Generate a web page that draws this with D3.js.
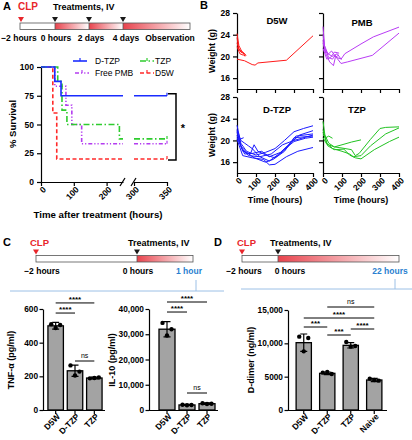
<!DOCTYPE html>
<html><head><meta charset="utf-8">
<script src="https://cdn.jsdelivr.net/npm/d3@7"></script>
<style>body{margin:0;background:#fff}svg{display:block}</style>
</head><body>
<svg id="c" width="412" height="440"></svg>
<script>
const FONT = "'Liberation Sans', Arial, Helvetica, sans-serif";

// ---------------- Panel A: survival ----------------
const survGroups = ["D-TZP", "TZP", "Free PMB", "D5W"];
const survTimes = [[0, 42, 61], [0, 51, 64, 79, 239], [0, 42, 76, 94, 124], [0, 36, 48]];
const survValues = [[100, 87.5, 75], [100, 87.5, 62.5, 50, 37.5], [100, 83.3, 66.7, 50, 33.3], [100, 60, 20]];
const survLeftTicks = [0, 100, 200];
const survRightTicks = [300, 350];
const survYTicks = [0, 25, 50, 75, 100];
const timelineALabels = ["\u22122 hours", "0 hours", "2 days", "4 days", "Observation"];

// ---------------- Panel B: weights ----------------
const weightTitles = ["D5W", "PMB", "D-TZP", "TZP"];
const weightXTicks = [0, 100, 200, 300, 400];
const weightYTicks = [16, 20, 24, 28];
const weightD5W = [
  [[0,19.5],[40,19.2],[80,18.5],[95,18.4],[110,18.8],[260,19.3],[400,23.8]],
  [[0,24.2],[10,22],[24,21],[45,20.3]],
  [[0,23.5],[8,21.5],[20,20.8],[40,20.5],[48,20.1]],
  [[0,22.5],[12,21.2],[30,20.8],[42,20.0]],
  [[0,21.8],[15,20.5],[35,20.2]]
];
const weightPMB = [
  [[0,25.5],[8,22],[25,20.5],[50,20],[75,20.5],[95,19.5],[115,20.5],[200,22.3],[265,23.6],[400,25.4]],
  [[0,24],[10,21.5],[30,19.8],[50,19.5],[65,20.2],[75,19.6],[95,18.7],[130,19],[260,20.2],[400,24.3]],
  [[0,22.5],[15,20.5],[35,19],[55,18.3],[65,19.8],[80,20.2]],
  [[0,21.5],[20,19.5],[40,19.8],[60,20.8],[85,20.6]],
  [[0,23],[10,21],[30,20.5],[45,21],[70,19.8],[100,19.5]]
];
const weightDTZP = [
  [[0,22.8],[20,19.5],[50,18],[100,17.3],[150,17.8],[200,18.5],[250,20],[300,21.6],[350,22.2],[400,22.7]],
  [[0,21.5],[25,18.5],[60,17.2],[120,17],[170,16.2],[220,17.5],[280,19.5],[330,21],[400,21.8]],
  [[0,21],[30,18],[70,17.5],[90,19.2],[110,18],[160,17.2],[200,16.8],[260,18.5],[310,20.8],[400,21.2]],
  [[0,20.5],[40,17.5],[80,17.6],[130,18],[170,17],[230,17.8],[300,19.8],[360,20.4],[400,20.6]],
  [[0,20.2],[30,17.2],[80,16.8],[140,16.5],[170,15.5],[200,15.6],[260,17],[320,18],[400,18.7]],
  [[0,21.8],[20,19],[50,17.8],[90,16.8],[150,16],[190,16.5],[250,18],[300,20.5],[400,20.8]],
  [[0,20.8],[15,20.2],[35,20.5]],
  [[0,22],[20,20],[40,19.5],[60,19],[80,18.5],[120,17],[180,17.5],[240,19.2],[300,20],[400,21]]
];
const weightTZP = [
  [[0,23.5],[10,21],[30,19.5],[60,18.8],[100,18.6],[150,18.3],[170,17.2],[190,17.6],[250,20.2],[300,22.2],[330,22.4],[400,22.5]],
  [[0,22],[20,19.5],[50,18.5],[100,18],[140,17.5],[160,17.0],[200,17.2],[250,19],[330,21.2],[400,22.3]],
  [[0,21.5],[25,19],[60,18.3],[110,18.4],[140,17.3],[170,16.8],[200,16.6],[270,18.3],[350,19.8],[400,20.6]],
  [[0,20.5],[20,19.3],[60,18.8],[100,19.2],[150,19.7],[200,20.1]],
  [[0,21],[15,20.5],[30,20.8],[50,20.4]]
];

// ---------------- Panels C, D: bars ----------------
const tnfGroups = ["D5W", "D-TZP", "TZP"];
const tnfMean = [500, 233, 190];
const tnfSD = [20, 33, 5];
const tnfPoints = [[510, 505, 487], [265, 228, 205], [188, 193, 190]];
const tnfTicks = [0, 200, 400, 600];
const tnfSig = [[0, 2, 636, "****"], [0, 1, 576, "****"], [1, 2, 291, "ns"]];

const il10Groups = ["D5W", "D-TZP", "TZP"];
const il10Mean = [32000, 2000, 2500];
const il10SD = [3000, 200, 300];
const il10Points = [[34500, 32000, 29500], [2100, 2000, 1900], [2700, 2500, 2400]];
const il10Ticks = [0, 10000, 20000, 30000, 40000];
const il10Sig = [[0, 2, 42770, "****"], [0, 1, 38800, "****"], [1, 2, 6730, "ns"]];

const ddGroups = ["D5W", "D-TZP", "TZP", "Naive"];
const ddMean = [10100, 5500, 9700, 4500];
const ddSD = [1300, 200, 400, 250];
const ddPoints = [[11000, 10800, 8800], [5600, 5400, 5700], [10200, 9600, 9500], [4700, 4400, 4500]];
const ddTicks = [0, 5000, 10000, 15000];
const ddSig = [[1, 3, 15450, "ns"], [0, 3, 13800, "****"], [0, 1, 12450, "***"], [2, 3, 12150, "****"], [1, 2, 11250, "***"]];

const timelineCLabels = ["\u22122 hours", "0 hours", "1 hour"];
const timelineDLabels = ["\u22122 hours", "0 hours", "22 hours"];

// ======================================================
const svg = d3.select("#c").attr("font-family", FONT);
const defs = svg.append("defs");
const grad = defs.append("linearGradient").attr("id", "fade").attr("x1", 0).attr("x2", 1).attr("y1", 0).attr("y2", 0);
grad.append("stop").attr("offset", 0).attr("stop-color", "#e8434d");
grad.append("stop").attr("offset", 1).attr("stop-color", "#ffffff");

function txt(x, y, s, o = {}) {
  return svg.append("text").attr("x", x).attr("y", y).text(s)
    .attr("font-size", o.size || 9).attr("font-weight", o.weight || "bold")
    .attr("fill", o.fill || "#000").attr("text-anchor", o.anchor || "start");
}
function vtxt(x, y, s, size) {
  return svg.append("text").attr("transform", `translate(${x},${y}) rotate(-90)`).text(s)
    .attr("font-size", size).attr("font-weight", "bold").attr("text-anchor", "middle").attr("fill", "#000");
}
function styleAxis(g, fs) {
  g.attr("font-family", FONT);
  g.selectAll("path,line").attr("stroke", "#000").attr("stroke-width", 1.2);
  g.selectAll("text").attr("font-size", fs).attr("font-weight", "bold").attr("fill", "#000");
}
function rotateLabels(g, dy) {
  g.selectAll("text").attr("text-anchor", "end").attr("x", 0).attr("y", 0).attr("dy", "0.35em")
    .attr("transform", `translate(3,${dy}) rotate(-45)`);
}
function tri(x, yTop, color) {
  svg.append("path").attr("d", `M${x - 3},${yTop}L${x + 3},${yTop}L${x},${yTop + 5}Z`).attr("fill", color);
}
function timeline(x0, x1, y, marks, fades, labels, labelX, blueLast) {
  svg.append("rect").attr("x", x0).attr("y", y).attr("width", x1 - x0).attr("height", 6.5).attr("fill", "#fff");
  fades.forEach(f => svg.append("rect").attr("x", f[0]).attr("y", y).attr("width", f[1] - f[0]).attr("height", 6.5).attr("fill", "url(#fade)"));
  svg.append("rect").attr("x", x0).attr("y", y).attr("width", x1 - x0).attr("height", 6.5).attr("fill", "none").attr("stroke", "#555").attr("stroke-width", 0.8);
  marks.forEach((m, i) => {
    tri(m, y - 6, i === 0 ? "#e8262b" : "#1a1a1a");
    if (i > 0) svg.append("line").attr("x1", m).attr("x2", m).attr("y1", y).attr("y2", y + 6.5).attr("stroke", "#555").attr("stroke-width", 0.8);
  });
  labels.forEach((l, i) => txt(labelX[i], y + 18, l, { size: 8.5, anchor: "middle", fill: (blueLast && i === labels.length - 1) ? "#2a7fd0" : "#000" }));
}

// ---------- Panel A ----------
txt(3, 10, "A", { size: 11 });
txt(18, 10, "CLP", { size: 10, fill: "#e8262b" });
txt(53, 10, "Treatments, IV", { size: 9 });
timeline(20, 190, 23, [21, 55, 89, 123], [[55, 89], [89, 123], [123, 190]], timelineALabels, [19, 56, 91, 126, 170], false);

const sxL = d3.scaleLinear().domain([0, 250]).range([41, 123]);
const sxR = d3.scaleLinear().domain([300, 350]).range([134, 167]);
const sy = d3.scaleLinear().domain([0, 100]).range([182, 67]);

const gy = svg.append("g").attr("transform", "translate(41,0)").call(d3.axisLeft(sy).tickValues(survYTicks).tickSize(4).tickSizeOuter(0));
styleAxis(gy, 8.5);
const gxL = svg.append("g").attr("transform", "translate(0,182)").call(d3.axisBottom(sxL).tickValues(survLeftTicks).tickSize(4).tickSizeOuter(0));
styleAxis(gxL, 8.5); rotateLabels(gxL, 6);
const gxR = svg.append("g").attr("transform", "translate(0,182)").call(d3.axisBottom(sxR).tickValues(survRightTicks).tickSize(4).tickSizeOuter(0));
styleAxis(gxR, 8.5); rotateLabels(gxR, 6);
[sxL.range()[1], sxR.range()[0]].forEach(x => svg.append("line").attr("x1", x - 3).attr("x2", x + 2).attr("y1", 186).attr("y2", 178).attr("stroke", "#000").attr("stroke-width", 1.2));

const survColors = ["#1a2cff", "#2ecc2e", "#b43cf0", "#ff2a2a"];
const survDash = [null, "6,2.5,1.5,2.5", "4,2,1.2,2,1.2,2", "4,2.5"];
const stepLine = d3.line().x(d => sxL(d[0])).y(d => sy(d[1])).curve(d3.curveStepAfter);
[3, 2, 1, 0].forEach(i => {
  const pts = survTimes[i].map((t, k) => [t, survValues[i][k]]);
  const last = survValues[i][survValues[i].length - 1];
  pts.push([250, last]);
  svg.append("path").attr("d", stepLine(pts)).attr("fill", "none").attr("stroke", survColors[i]).attr("stroke-width", 1.6).attr("stroke-dasharray", survDash[i]);
  svg.append("line").attr("x1", sxR(300)).attr("x2", sxR(350)).attr("y1", sy(last)).attr("y2", sy(last))
    .attr("stroke", survColors[i]).attr("stroke-width", 1.6).attr("stroke-dasharray", survDash[i]);
  svg.append("line").attr("x1", sxR(350)).attr("x2", sxR(350)).attr("y1", sy(last) - 3).attr("y2", sy(last)).attr("stroke", survColors[i]).attr("stroke-width", 1.2);
});
const legPos = [[73, 61], [140, 61], [75, 73], [140, 73]];
survGroups.forEach((g, i) => {
  const [lx, ly] = legPos[i];
  svg.append("line").attr("x1", lx).attr("x2", lx + 14).attr("y1", ly).attr("y2", ly).attr("stroke", survColors[i]).attr("stroke-width", 1.6).attr("stroke-dasharray", survDash[i]);
  svg.append("line").attr("x1", lx + 7).attr("x2", lx + 7).attr("y1", ly - 3).attr("y2", ly).attr("stroke", survColors[i]).attr("stroke-width", 1.2);
  txt(i % 2 === 0 ? 95 : 155, ly + 3, g, { size: 8.5, weight: "normal" });
});
svg.append("path").attr("d", `M168,${sy(75) - 2}H176V${sy(20) + 1}H168`).attr("fill", "none").attr("stroke", "#000").attr("stroke-width", 1.5);
txt(183, 132, "*", { size: 11, anchor: "middle" });
vtxt(16, 124, "% Survival", 9.5);
txt(98, 218, "Time after treatment (hours)", { size: 9.7, anchor: "middle" });

// ---------- Panel B ----------
txt(200, 9, "B", { size: 11 });
const wData = [weightD5W, weightPMB, weightDTZP, weightTZP];
const wColors = ["#ff1a1a", "#b93cf5", "#1a1aff", "#22c322"];
const colX = [[237, 313], [323, 399]];
const rowY = [[89, 13], [173, 97]];
const titlePos = [[277, 24], [362, 26], [277, 113], [357, 113]];
wData.forEach((series, p) => {
  const c = p % 2, r = Math.floor(p / 2);
  const x = d3.scaleLinear().domain([0, 400]).range(colX[c]);
  const y = d3.scaleLinear().domain([14, 28]).range(rowY[r]);
  const ya = svg.append("g").attr("transform", `translate(${colX[c][0]},0)`).call(d3.axisLeft(y).tickValues(weightYTicks).tickSize(4).tickSizeOuter(0));
  styleAxis(ya, 8.5);
  if (c === 1) ya.selectAll("text").remove();
  const xa = svg.append("g").attr("transform", `translate(0,${rowY[r][0]})`).call(d3.axisBottom(x).tickValues(weightXTicks).tickSize(4).tickSizeOuter(0));
  styleAxis(xa, 8.5);
  if (r === 0) xa.selectAll("text").remove(); else rotateLabels(xa, 6);
  const line = d3.line().x(d => x(d[0])).y(d => y(d[1])).curve(d3.curveLinear);
  series.forEach(s => svg.append("path").attr("d", line(s)).attr("fill", "none").attr("stroke", wColors[p]).attr("stroke-width", 1));
  txt(titlePos[p][0], titlePos[p][1], weightTitles[p], { size: 9.5, anchor: "middle" });
});
vtxt(215, 51, "Weight (g)", 9);
vtxt(215, 135, "Weight (g)", 9);
txt(275, 203, "Time (hours)", { size: 9, anchor: "middle" });
txt(361, 203, "Time (hours)", { size: 9, anchor: "middle" });

// ---------- Panel C / D timelines ----------
txt(3, 246, "C", { size: 11 });
txt(30, 246, "CLP", { size: 9.5, fill: "#e8262b" });
txt(128, 246, "Treatments, IV", { size: 9 });
timeline(36, 193, 255.5, [36, 137], [[137, 193]], timelineCLabels, [42, 138, 189], true);
svg.append("path").attr("d", "M10,291H224M196,291V280").attr("fill", "none").attr("stroke", "#9cc0e6").attr("stroke-width", 1);

txt(214, 246, "D", { size: 11 });
txt(237, 246, "CLP", { size: 9.5, fill: "#e8262b" });
txt(270, 246, "Treatments, IV", { size: 9 });
timeline(242, 399, 255.5, [242, 278], [[278, 399]], timelineDLabels, [244, 290, 390], true);
svg.append("path").attr("d", "M241,289H412M395,289V279").attr("fill", "none").attr("stroke", "#9cc0e6").attr("stroke-width", 1);

// ---------- bar charts ----------
function barChart(cfg) {
  const x = d3.scaleBand().domain(cfg.groups).range(cfg.xr).paddingInner(cfg.pad).paddingOuter(cfg.pad / 2);
  const y = d3.scaleLinear().domain([0, cfg.max]).range([410, cfg.top]);
  const ya = svg.append("g").attr("transform", `translate(${cfg.axisX},0)`).call(d3.axisLeft(y).tickValues(cfg.ticks).tickSize(3.5).tickPadding(1.5).tickSizeOuter(0).tickFormat(cfg.fmt));
  styleAxis(ya, 8.3);
  const xa = svg.append("g").attr("transform", `translate(0,410)`).call(d3.axisBottom(x).tickSize(4).tickSizeOuter(0));
  xa.select(".domain").attr("d", `M${cfg.axisX},0.5H${cfg.xr[1] + 1}`);
  styleAxis(xa, 8.5); rotateLabels(xa, 5);
  const bw = x.bandwidth();
  cfg.groups.forEach((g, i) => {
    const cx = x(g) + bw / 2;
    svg.append("rect").attr("x", x(g)).attr("y", y(cfg.mean[i])).attr("width", bw).attr("height", 410 - y(cfg.mean[i]))
      .attr("fill", "#a3a3a3").attr("stroke", "#000").attr("stroke-width", 1.3);
    const lo = y(cfg.mean[i] - cfg.sd[i]), hi = y(cfg.mean[i] + cfg.sd[i]);
    svg.append("path").attr("d", `M${cx},${lo}V${hi}M${cx - 3.5},${hi}H${cx + 3.5}M${cx - 3.5},${lo}H${cx + 3.5}`).attr("stroke", "#000").attr("stroke-width", 1.2).attr("fill", "none");
    const jit = [-4.5, 4.5, 0];
    cfg.points[i].forEach((v, k) => svg.append("circle").attr("cx", cx + jit[k]).attr("cy", y(v)).attr("r", 2.2).attr("fill", "#000"));
  });
  cfg.sig.forEach(([a, b, v, lab]) => {
    const xa_ = x(cfg.groups[a]) + bw / 2, xb = x(cfg.groups[b]) + bw / 2;
    svg.append("line").attr("x1", xa_).attr("x2", xb).attr("y1", y(v)).attr("y2", y(v)).attr("stroke", "#000").attr("stroke-width", 1);
    const isNs = lab === "ns";
    txt((xa_ + xb) / 2, y(v) - (isNs ? 3 : 1), lab, { size: isNs ? 7 : 8, weight: isNs ? "normal" : "bold", anchor: "middle" });
  });
  vtxt(cfg.labelX, 360, cfg.label, 9);
}
const fmtBig = d => d >= 10000 ? d3.format(",")(d) : String(d);
barChart({ groups: tnfGroups, mean: tnfMean, sd: tnfSD, points: tnfPoints, ticks: tnfTicks, sig: tnfSig, max: 600, top: 309,
  axisX: 43, xr: [46, 104], pad: 0.2, fmt: fmtBig, label: "TNF-\u03b1 (pg/ml)", labelX: 14 });
barChart({ groups: il10Groups, mean: il10Mean, sd: il10SD, points: il10Points, ticks: il10Ticks, sig: il10Sig, max: 40000, top: 309,
  axisX: 149, xr: [157, 217], pad: 0.2, fmt: fmtBig, label: "IL-10 (pg/ml)", labelX: 115 });
barChart({ groups: ddGroups, mean: ddMean, sd: ddSD, points: ddPoints, ticks: ddTicks, sig: ddSig, max: 15000, top: 310,
  axisX: 288, xr: [292, 386], pad: 0.35, fmt: fmtBig, label: "D-dimer (ng/ml)", labelX: 254 });
</script>
</body></html>
